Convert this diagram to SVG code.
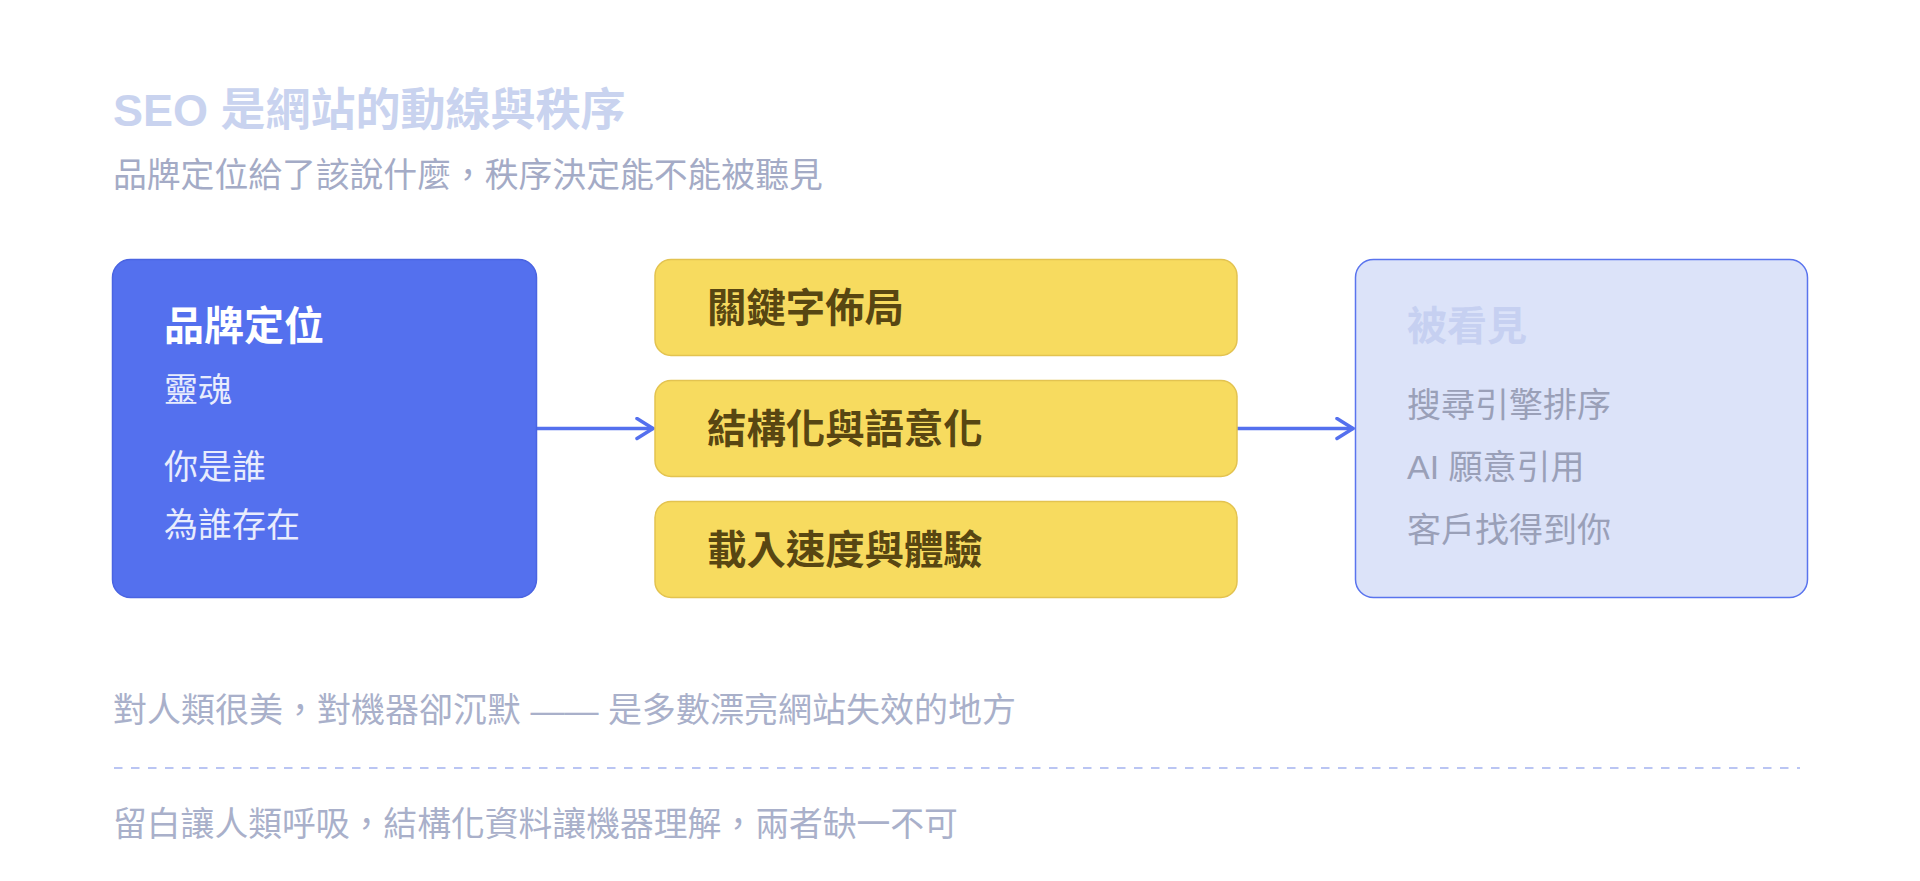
<svg xmlns="http://www.w3.org/2000/svg" width="1920" height="881" viewBox="0 0 1920 881">
<defs>
<style>
text { font-family: "Liberation Sans", "Noto Sans CJK TC", sans-serif; }
.title { font-size: 45px; font-weight: bold; fill: #c9d3ef; }
.sub { font-size: 33.8px; fill: #a4abc6; }
.note { font-size: 33.8px; fill: #a9b0ca; }
.note1 { font-size: 34px; }
.blue { fill: #5470ee; stroke: #4a64e2; stroke-width: 1.5; }
.yellow { fill: #f7db5f; stroke: #e3c350; stroke-width: 1.5; }
.light { fill: #dce3f9; stroke: #5a74ee; stroke-width: 1.5; }
.bt { font-size: 40px; font-weight: bold; fill: #ffffff; }
.bb { font-size: 34px; fill: #e8ecfd; }
.yt { font-size: 39.4px; font-weight: bold; fill: #584612; }
.lt { font-size: 40px; font-weight: bold; fill: #c6d0f1; }
.lb { font-size: 34px; fill: #9aa0b8; }
.conn { stroke: #5470ee; stroke-width: 3.5; fill: none; stroke-linecap: round; stroke-linejoin: round; }
</style>
<marker id="arr" viewBox="0 0 20 24" refX="18" refY="12" markerWidth="20" markerHeight="24" markerUnits="userSpaceOnUse" orient="auto">
<path d="M2,2 L18,12 L2,22" fill="none" stroke="#5470ee" stroke-width="3.5" stroke-linecap="round" stroke-linejoin="round"/>
</marker>
</defs>
<rect width="1920" height="881" fill="#ffffff"/>

<g id="header">
<text class="title" x="113" y="126">SEO 是網站的動線與秩序</text>
<text class="sub" x="113" y="187">品牌定位給了該說什麼，秩序決定能不能被聽見</text>
</g>

<g id="connectors">
<line class="conn" x1="537" y1="428.5" x2="653" y2="428.5" marker-end="url(#arr)"/>
<line class="conn" x1="1237" y1="428.5" x2="1353" y2="428.5" marker-end="url(#arr)"/>
</g>

<g id="node-brand">
<rect class="blue" x="112.5" y="259.5" width="424" height="338" rx="18"/>
<text class="bt" x="164" y="340">品牌定位</text>
<text class="bb" x="164" y="402">靈魂</text>
<text class="bb" x="164" y="479">你是誰</text>
<text class="bb" x="164" y="537">為誰存在</text>
</g>

<g id="node-keyword">
<rect class="yellow" x="655" y="259.5" width="582" height="96" rx="16"/>
<text class="yt" x="707" y="322">關鍵字佈局</text>
</g>

<g id="node-structure">
<rect class="yellow" x="655" y="380.5" width="582" height="96" rx="16"/>
<text class="yt" x="707" y="443">結構化與語意化</text>
</g>

<g id="node-speed">
<rect class="yellow" x="655" y="501.5" width="582" height="96" rx="16"/>
<text class="yt" x="707" y="563.5">載入速度與體驗</text>
</g>

<g id="node-seen">
<rect class="light" x="1355.5" y="259.5" width="452" height="338" rx="18"/>
<text class="lt" x="1407" y="340">被看見</text>
<text class="lb" x="1407" y="417">搜尋引擎排序</text>
<text class="lb" x="1407" y="479">AI 願意引用</text>
<text class="lb" x="1407" y="542">客戶找得到你</text>
</g>

<g id="footer">
<text class="note note1" x="113" y="722">對人類很美，對機器卻沉默 —— 是多數漂亮網站失效的地方</text>
<line x1="114" y1="768" x2="1800" y2="768" stroke="#bac5f3" stroke-width="2" stroke-dasharray="8.5 8.5"/>
<text class="note" x="113" y="836">留白讓人類呼吸，結構化資料讓機器理解，兩者缺一不可</text>
</g>
</svg>
